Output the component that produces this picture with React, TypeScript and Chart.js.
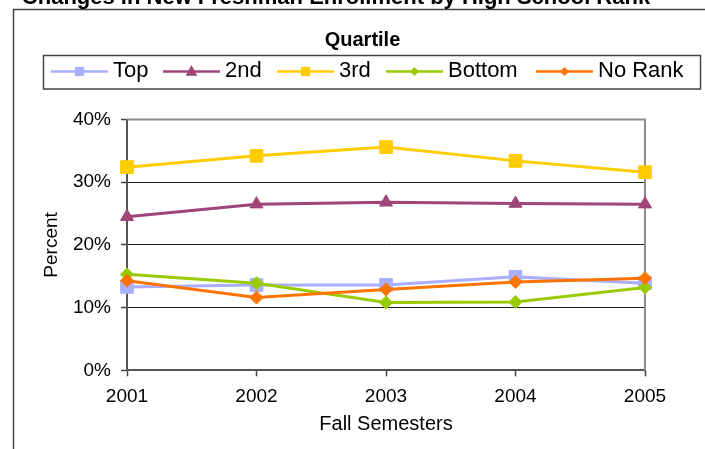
import React, { useEffect, useRef } from "react";
import { Chart, registerables } from "chart.js";

Chart.register(...registerables);

// ---- data ----
const chartTitle = "Changes in New Freshman Enrollment by High School Rank";
const legendTitle = "Quartile";
const xAxisTitle = "Fall Semesters";
const yAxisTitle = "Percent";
const years = ["2001", "2002", "2003", "2004", "2005"];
const seriesNames = ["Top", "2nd", "3rd", "Bottom", "No Rank"];
const topValues = [13.3, 13.6, 13.6, 14.9, 13.9];
const secondValues = [24.5, 26.5, 26.8, 26.6, 26.5];
const thirdValues = [32.4, 34.2, 35.6, 33.4, 31.6];
const bottomValues = [15.3, 13.9, 10.8, 10.9, 13.2];
const noRankValues = [14.3, 11.6, 12.9, 14.1, 14.7];
const yMin = 0;
const yMax = 40;
const yStep = 10;

// ---- styles ----
const FONT = "'Liberation Sans', Arial, sans-serif";
const seriesColors = ["#AAAEFF", "#A0457A", "#FFCC00", "#99CC00", "#FF7300"];
const seriesMarkers = ["rect", "triangle", "rect", "rectRot", "rectRot"];
const seriesRadius = [9, 7.5, 9, 6.5, 6.5];
const seriesValues = [topValues, secondValues, thirdValues, bottomValues, noRankValues];

function drawMarker(ctx: CanvasRenderingContext2D, kind: string, x: number, y: number, s: number, color: string) {
  ctx.save();
  ctx.fillStyle = color;
  ctx.beginPath();
  if (kind === "rect") {
    ctx.rect(x - s, y - s, 2 * s, 2 * s);
  } else if (kind === "triangle") {
    ctx.moveTo(x, y - s * 1.1);
    ctx.lineTo(x + s, y + s * 0.75);
    ctx.lineTo(x - s, y + s * 0.75);
    ctx.closePath();
  } else {
    ctx.moveTo(x, y - s);
    ctx.lineTo(x + s, y);
    ctx.lineTo(x, y + s);
    ctx.lineTo(x - s, y);
    ctx.closePath();
  }
  ctx.fill();
  ctx.restore();
}

const decorPlugin = {
  id: "decor",
  beforeDatasetsDraw(chart: any) {
    const { ctx, chartArea } = chart;
    ctx.save();
    ctx.strokeStyle = "#8c8c8c";
    ctx.lineWidth = 2;
    ctx.beginPath();
    ctx.moveTo(chartArea.left, chartArea.top);
    ctx.lineTo(chartArea.right, chartArea.top);
    ctx.lineTo(chartArea.right, chartArea.bottom);
    ctx.stroke();
    ctx.restore();
  },
  afterDraw(chart: any) {
    const { ctx } = chart;
    ctx.save();
    // outer frame
    ctx.strokeStyle = "#444";
    ctx.lineWidth = 1.5;
    ctx.strokeRect(13.5, 9.5, 900, 600);
    // main title (cut at the top)
    ctx.fillStyle = "#000";
    ctx.font = `bold 22px ${FONT}`;
    ctx.textAlign = "center";
    ctx.textBaseline = "alphabetic";
    ctx.fillText(chartTitle, 336, 4);
    // legend title
    ctx.font = `bold 20px ${FONT}`;
    ctx.textBaseline = "middle";
    ctx.fillText(legendTitle, 362.5, 40);
    // legend box
    ctx.strokeStyle = "#444";
    ctx.lineWidth = 1.5;
    ctx.strokeRect(43.5, 55.5, 657, 33.5);
    // legend items
    const starts = [51, 163, 277, 386, 536];
    const legendSize = [4.6, 5.8, 4.6, 4.6, 4.6];
    const ly = 71.5;
    ctx.font = `22px ${FONT}`;
    ctx.textAlign = "left";
    seriesNames.forEach((name, i) => {
      const x0 = starts[i];
      const x1 = x0 + 57;
      ctx.strokeStyle = seriesColors[i];
      ctx.lineWidth = 2.5;
      ctx.beginPath();
      ctx.moveTo(x0, ly);
      ctx.lineTo(x1, ly);
      ctx.stroke();
      drawMarker(ctx, seriesMarkers[i], (x0 + x1) / 2, ly, legendSize[i], seriesColors[i]);
      ctx.fillStyle = "#000";
      ctx.fillText(name, x1 + 5, 71);
    });
    ctx.restore();
  },
};

export default function App() {
  const canvasRef = useRef<HTMLCanvasElement | null>(null);

  useEffect(() => {
    const canvas = canvasRef.current;
    if (!canvas) return;
    const chart = new Chart(canvas, {
      type: "line",
      data: {
        labels: years,
        datasets: seriesNames.map((name, i) => ({
          label: name,
          data: seriesValues[i],
          borderColor: seriesColors[i],
          backgroundColor: seriesColors[i],
          borderWidth: 3,
          tension: 0,
          fill: false,
          pointStyle: seriesMarkers[i] as any,
          pointRadius: seriesRadius[i],
          pointBackgroundColor: seriesColors[i],
          pointBorderColor: seriesColors[i],
          pointBorderWidth: 1,
          order: seriesNames.length - i,
        })),
      },
      options: {
        responsive: false,
        animation: false,
        events: [],
        layout: { padding: { top: 119.5, right: 60, left: 0, bottom: 0 } },
        plugins: {
          legend: { display: false },
          title: { display: false },
          tooltip: { enabled: false },
        },
        scales: {
          x: {
            type: "category",
            offset: false,
            grid: {
              display: true,
              drawOnChartArea: false,
              drawTicks: true,
              tickLength: 6,
              tickColor: "#444",
              tickWidth: 1.5,
            },
            border: { display: true, color: "#555", width: 2 },
            ticks: {
              color: "#000",
              font: { family: FONT, size: 19 },
              padding: 9,
              maxRotation: 0,
              autoSkip: false,
            },
            title: {
              display: true,
              text: xAxisTitle,
              color: "#000",
              font: { family: FONT, size: 20 },
              padding: { top: 0, bottom: 13 },
            },
            afterFit: (scale: any) => {
              scale.height = 78.7;
            },
          },
          y: {
            min: yMin,
            max: yMax,
            grid: {
              display: true,
              drawOnChartArea: true,
              drawTicks: true,
              tickLength: 6,
              color: (c: any) => (c.tick && c.tick.value === yMax ? "rgba(0,0,0,0)" : "#1e1e1e"),
              tickColor: "#444",
              lineWidth: 1,
              tickWidth: 1.5,
            },
            border: { display: true, color: "#555", width: 2 },
            ticks: {
              stepSize: yStep,
              color: "#000",
              font: { family: FONT, size: 19 },
              padding: 10,
              callback: (v: any) => `${v}%`,
            },
            title: {
              display: true,
              text: yAxisTitle,
              color: "#000",
              font: { family: FONT, size: 19 },
              padding: { top: 40, bottom: 0 },
            },
            afterFit: (scale: any) => {
              scale.width = 127;
            },
          },
        },
      },
      plugins: [decorPlugin],
    });
    return () => chart.destroy();
  }, []);

  return (
    <div
      style={{
        position: "absolute",
        left: 0,
        top: 0,
        width: 705,
        height: 449,
        overflow: "hidden",
        background: "#fff",
      }}
    >
      <canvas ref={canvasRef} width={705} height={449} style={{ display: "block", width: 705, height: 449 }} />
    </div>
  );
}
